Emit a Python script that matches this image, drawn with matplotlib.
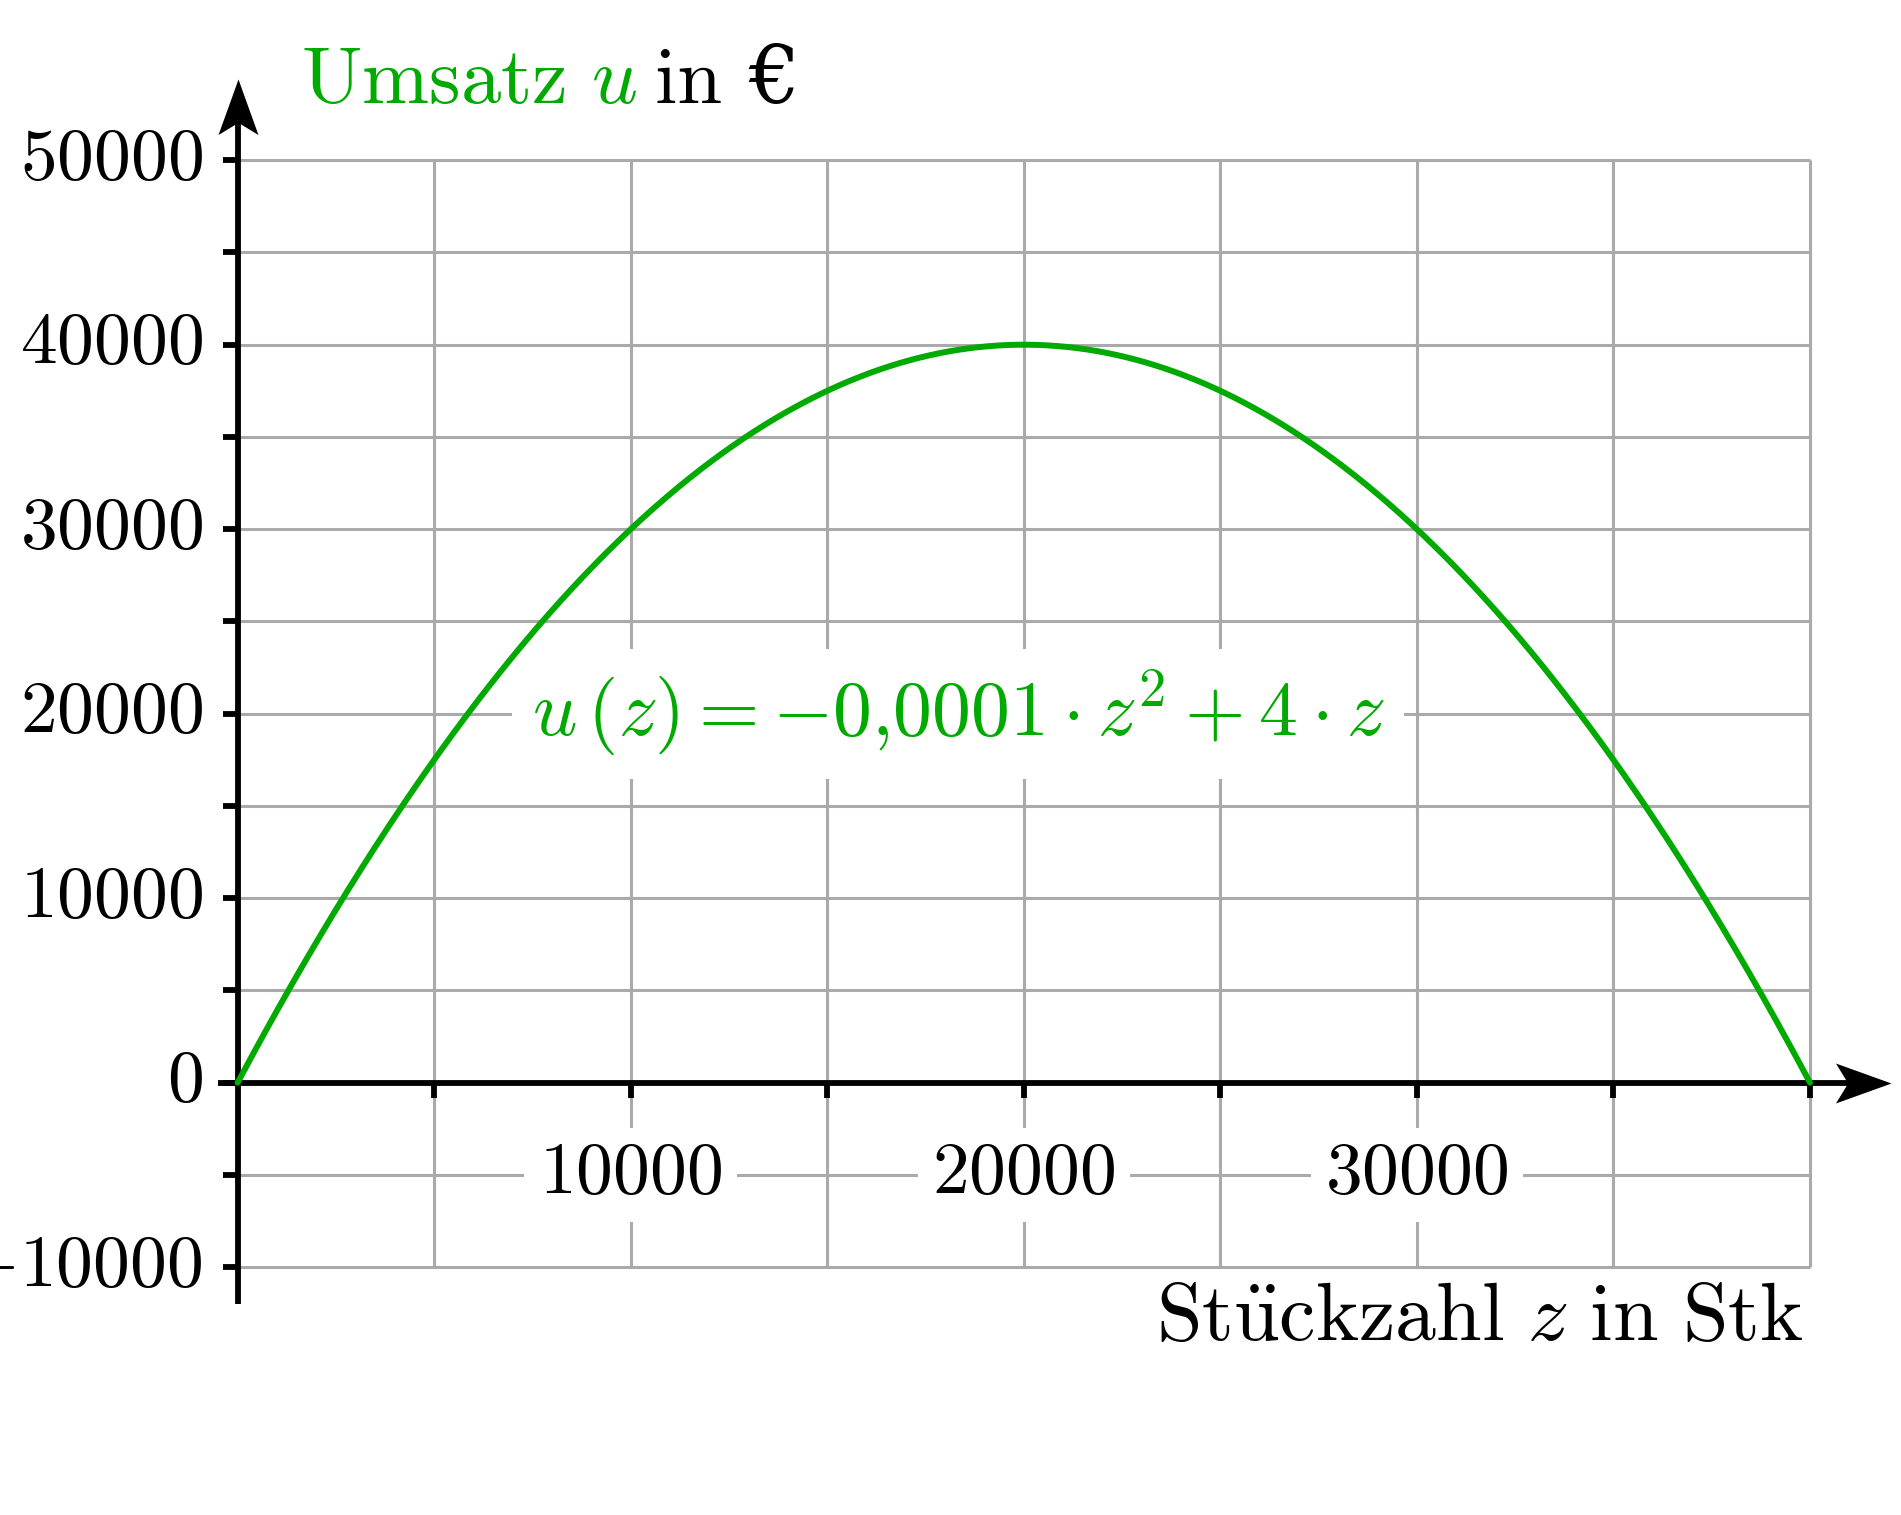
import numpy as np
import matplotlib
matplotlib.use("Agg")
import matplotlib.pyplot as plt
from matplotlib.path import Path

plt.rcParams['mathtext.fontset'] = 'cm'
plt.rcParams['font.family'] = ['cmr10', 'DejaVu Serif']
plt.rcParams['axes.unicode_minus'] = False

# ---- data ----
coef_a = -0.0001          # u(z) = a*z^2 + b*z
coef_b = 4
z_min, z_max = 0, 40000
grid_x = [5000, 10000, 15000, 20000, 25000, 30000, 35000, 40000]
grid_y = [-10000, -5000, 0, 5000, 10000, 15000, 20000, 25000, 30000, 35000, 40000, 45000, 50000]
x_tick_labels = ['10000', '20000', '30000']
x_tick_pos = [10000, 20000, 30000]
y_tick_pos = [-10000, 0, 10000, 20000, 30000, 40000, 50000]
y_tick_labels = ['-10000', '0', '10000', '20000', '30000', '40000', '50000']

GREEN = '#00aa00'
GRID = '#aaaaaa'

fig = plt.figure(figsize=(19.01, 15.15), dpi=100)
ax = fig.add_axes([0, 0, 1, 1])
# pixel mapping: z=0 -> x 237.6 px, z=40000 -> 1810 px ; u=0 -> 1082.7 px from top, 10000 per 184.5 px
sx = (1810 - 237.6) / 40000.0
sy = 184.5 / 10000.0
ax.set_xlim(-237.6 / sx, (1901 - 237.6) / sx)
ax.set_ylim(-(1515 - 1082.7) / sy, 1082.7 / sy)
ax.axis('off')

# grid
for gx in grid_x:
    ax.plot([gx, gx], [grid_y[0], grid_y[-1]], color=GRID, lw=2.2, zorder=1, solid_capstyle='butt')
for gy in grid_y:
    ax.plot([z_min, z_max], [gy, gy], color=GRID, lw=2.2, zorder=1, solid_capstyle='butt')

# axes lines
lw_ax = 4.2
ax.plot([-500, 41400], [0, 0], color='black', lw=lw_ax, zorder=4, solid_capstyle='butt')
ax.plot([0, 0], [-12000, 53500], color='black', lw=lw_ax, zorder=4, solid_capstyle='butt')

# arrowheads (custom markers with tip at origin)
def arrow_marker(angle):
    L, W, N = 1.0, 0.36, 0.78
    verts = np.array([(0, 0), (-L, W), (-N, 0), (-L, -W), (0, 0)])
    c, s = np.cos(angle), np.sin(angle)
    R = np.array([[c, -s], [s, c]])
    verts = verts @ R.T
    codes = [Path.MOVETO, Path.LINETO, Path.LINETO, Path.LINETO, Path.CLOSEPOLY]
    return Path(verts, codes)

tip_x = (1891 - 237.6) / sx
tip_y = (1082.7 - 79) / sy
ax.plot([tip_x], [0], marker=arrow_marker(0), markersize=80, color='black',
        markeredgewidth=0, zorder=5)
ax.plot([0], [tip_y], marker=arrow_marker(np.pi / 2), markersize=80, color='black',
        markeredgewidth=0, zorder=5)

# ticks
tick_len_x = 15 / sy
tick_len_y = 15 / sx
for gx in grid_x:
    ax.plot([gx, gx], [0, -tick_len_x], color='black', lw=lw_ax, zorder=4, solid_capstyle='butt')
for gy in grid_y:
    ax.plot([0, -tick_len_y], [gy, gy], color='black', lw=lw_ax, zorder=4, solid_capstyle='butt')

# curve (drawn above the formula's white box so it is never hidden)
z = np.linspace(z_min, z_max, 801)
u = coef_a * z**2 + coef_b * z
ax.plot(z, u, color=GREEN, lw=4.3, zorder=7, solid_capstyle='round')

# tick labels
for p, lab in zip(x_tick_pos, x_tick_labels):
    ax.text(p, -5000, '$' + lab + '$', fontsize=53, ha='center', va='center', zorder=6,
            bbox=dict(boxstyle='square,pad=0.2', fc='white', ec='none'))
for p, lab in zip(y_tick_pos, y_tick_labels):
    ax.text(-35 / sx, p, '$' + lab + '$', fontsize=53, ha='right', va='center', zorder=6)

# formula
ax.text(18326, 20000, r'$u\,(z) = -0{,}0001 \cdot z^2 + 4 \cdot z$', fontsize=56,
        color=GREEN, ha='center', va='center', zorder=6,
        bbox=dict(boxstyle='square,pad=0.25', fc='white', ec='none'))

# axis titles
ax.text((300.7 - 237.6) / sx, (1082.7 - 103) / sy, r'$\mathrm{Umsatz}\ u$', fontsize=58,
        color=GREEN, ha='left', va='baseline')
ax.text((654.7 - 237.6) / sx, (1082.7 - 103) / sy, 'in €', fontsize=58,
        color='black', ha='left', va='baseline')
ax.text((1803 - 237.6) / sx, -(1340 - 1082.7) / sy,
        r'$\mathrm{St\ddot{u}ckzahl}\ z\ \mathrm{in}\ \mathrm{Stk}$', fontsize=59,
        color='black', ha='right', va='baseline')

fig.savefig('out.png', dpi=100)
